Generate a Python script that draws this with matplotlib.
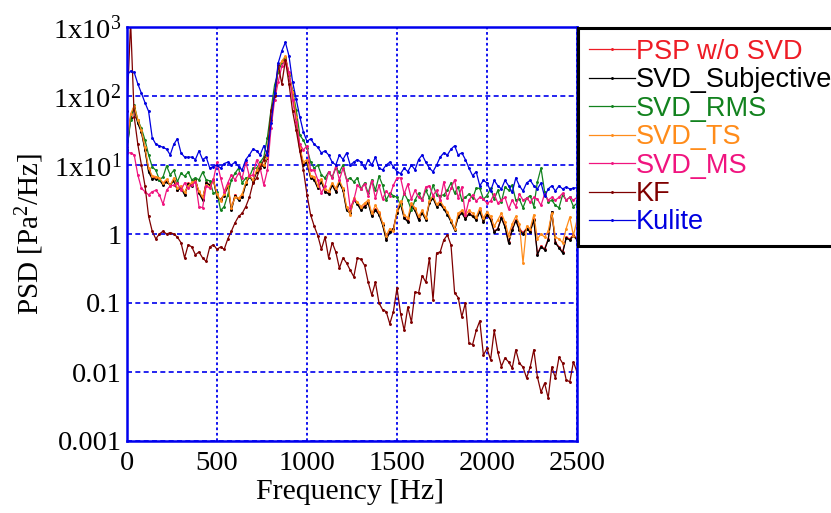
import numpy as np
import matplotlib
matplotlib.use("Agg")
import matplotlib.pyplot as plt

plt.rcParams['font.family'] = 'Liberation Serif'
plt.rcParams['mathtext.fontset'] = 'custom'
plt.rcParams['mathtext.rm'] = 'Liberation Serif'
plt.rcParams['mathtext.it'] = 'Liberation Serif:italic'

# frequency axis, 20 Hz steps
freq = np.arange(0, 2501, 20)

psp_raw = [18, 50, 70, 42, 31, 17, 8.5, 6.6, 6.5, 6.3,
           5.3, 5.9, 5.2, 6.1, 4.4, 4.8, 3.8, 5.4, 5.2, 6.2,
           4.0, 3.2, 5.6, 5.2, 6.2, 3.5, 3.2, 3.7, 5.1, 2.3,
           3.7, 3.2, 3.5, 5.4, 7.0, 5.9, 8.1, 10.2, 9.6, 12.8,
           46, 105, 245, 315, 365, 205, 112, 49, 17, 10.2,
           11.2, 6.6, 6.2, 4.7, 5.8, 4.2, 3.9, 5.2, 4.2, 5.6,
           4.4, 2.3, 2.1, 3.2, 2.8, 2.3, 2.6, 2.9, 1.9, 2.3,
           2.0, 1.4, 0.85, 1.1, 1.2, 2.1, 2.8, 1.75, 1.55, 2.6,
           2.3, 1.65, 2.1, 1.65, 2.9, 3.4, 2.6, 2.8, 2.4, 2.0,
           1.55, 1.2, 1.8, 2.1, 1.7, 2.0, 1.85, 1.65, 2.2, 1.55,
           1.95, 1.65, 1.1, 1.2, 1.75, 1.3, 0.76, 1.2, 1.6, 1.2,
           1.05, 1.2, 1.1, 1.65, 0.52, 0.67, 0.61, 0.85, 2.1, 0.76,
           0.65, 0.55, 0.9, 0.85, 0.97, 0.85]

svd_subj = [16.5, 48, 67, 40, 30, 16.5, 7.9, 6.3, 6.3, 6.1,
            5.1, 5.7, 5.1, 5.9, 4.3, 4.6, 3.7, 5.3, 5.0, 6.1,
            3.9, 3.1, 5.5, 5.1, 6.1, 3.4, 3.1, 3.6, 5.0, 2.2,
            3.6, 3.1, 3.4, 5.3, 6.9, 5.7, 7.9, 10, 9.4, 12.6,
            45, 103, 240, 310, 360, 200, 110, 48, 16.5, 10,
            11, 6.5, 6.1, 4.6, 5.7, 4.1, 3.8, 5.1, 4.1, 5.5,
            4.3, 2.2, 2.0, 3.1, 2.7, 2.2, 2.5, 2.8, 1.8, 2.2,
            1.9, 1.35, 0.82, 1.07, 1.18, 2.0, 2.7, 1.7, 1.5, 2.5,
            2.2, 1.6, 2.0, 1.6, 2.8, 3.3, 2.5, 2.7, 2.3, 1.9,
            1.5, 1.14, 1.76, 2.0, 1.65, 1.95, 1.8, 1.6, 2.1, 1.5,
            1.9, 1.6, 1.07, 1.18, 1.7, 1.26, 0.74, 1.14, 1.55, 1.14,
            1.0, 1.18, 1.07, 1.6, 0.5, 0.65, 0.59, 0.82, 2.1, 0.74,
            0.63, 0.53, 0.87, 0.82, 0.94, 0.82]

svd_rms = [16.5, 45, 74, 45, 34, 23, 14, 9.4, 8.4, 6.1,
           6.7, 9.7, 7.2, 8.4, 5.7, 7.6, 6.9, 7.9, 6.1, 6.5,
           6.1, 7.9, 6.1, 5.9, 3.9, 4.1, 2.2, 2.5, 3.7, 6.1,
           7.6, 9, 5.5, 6.5, 6.7, 9, 9, 11, 13, 25,
           63, 145, 220, 310, 360, 200, 120, 63, 27, 23,
           17.6, 11, 9, 10, 7.2, 6.5, 7.9, 6.7, 9, 7.9,
           10, 6.1, 6.5, 5.7, 6.5, 4.5, 5.5, 3.9, 6.1, 4.3,
           6.9, 5.1, 3.1, 3.9, 3.6, 3.4, 2.6, 3.9, 3.1, 2.2,
           3.1, 3.9, 3.1, 4.3, 3.3, 5.1, 3.7, 3.6, 3.7, 4.3,
           5.5, 3.9, 4.8, 3.1, 3.4, 3.8, 3.3, 4.6, 4.6, 3.2,
           3.6, 4.6, 3.2, 4.3, 2.9, 4.8, 4.3, 5.1, 3.1, 3.2,
           2.4, 3.3, 3.6, 2.5, 5.7, 9, 4.1, 2.9, 3.1, 2.6,
           2.4, 3.7, 3.1, 3.4, 2.5, 2.8]

svd_ts = [20, 55, 72, 45, 32, 18, 9, 7, 6.8, 6.5,
          5.5, 6.2, 5.0, 6.5, 4.6, 5.0, 4.0, 5.0, 5.6, 5.8,
          4.2, 3.4, 5.2, 4.8, 6.0, 3.8, 3.0, 3.8, 5.3, 2.4,
          3.4, 3.3, 3.8, 5.6, 7.2, 6.0, 8.5, 10.5, 10, 13,
          48, 110, 250, 320, 380, 210, 115, 50, 18, 11,
          12, 7, 6.8, 5.0, 6.2, 4.5, 4.2, 5.5, 4.6, 6.0,
          4.6, 2.5, 1.9, 3.3, 2.9, 2.5, 2.8, 3.1, 2.0, 2.6,
          2.1, 1.45, 0.95, 1.2, 1.1, 2.2, 3.0, 1.9, 1.7, 2.8,
          2.4, 1.8, 2.2, 1.7, 3.0, 3.6, 2.7, 3.0, 2.5, 2.1,
          1.6, 1.2, 2.0, 2.2, 1.9, 2.2, 2.0, 1.75, 2.4, 1.7,
          2.1, 1.8, 1.3, 1.6, 2.0, 1.5, 0.95, 1.4, 1.8, 1.4,
          0.38, 1.3, 1.2, 1.9, 0.85, 1.0, 0.9, 1.1, 2.0, 0.9,
          0.85, 0.75, 1.2, 1.75, 0.95, 1.6]

svd_ms = [15, 15, 14, 7.2, 4.6, 4.1, 3.7, 4.1, 4.3, 3.7,
          2.7, 4.3, 5.0, 5.1, 5.5, 4.3, 5.5, 4.6, 5.1, 5.7,
          2.5, 2.4, 5.0, 4.6, 6.1, 11, 6.5, 4.1, 5.5, 7.2,
          6.1, 7.6, 6.5, 11, 6.9, 7.2, 11.8, 9, 5.1, 8.4,
          34, 88, 160, 270, 330, 220, 88, 42, 20, 16.5,
          19, 8.4, 8.4, 6.1, 3.9, 5.0, 7.9, 6.5, 9.7, 6.1,
          9, 6.1, 2.4, 3.1, 5.1, 4.5, 5.3, 3.6, 5.9, 3.3,
          5.1, 3.2, 4.2, 3.6, 5.1, 6.5, 6.5, 3.8, 5.3, 3.2,
          4.3, 3.4, 3.1, 4.8, 5.0, 3.6, 4.3, 3.1, 5.7, 3.3,
          4.6, 6.1, 3.3, 4.8, 1.9, 3.1, 3.7, 3.0, 3.4, 3.2,
          2.8, 3.0, 3.8, 2.8, 3.1, 3.4, 2.3, 3.1, 2.5, 3.8,
          3.1, 3.3, 2.9, 3.4, 3.2, 2.6, 3.8, 3.1, 3.4, 3.1,
          3.4, 3.9, 3.1, 3.4, 3.1, 3.4]

kf = [60, 1200, 50, 20, 10, 5, 1.8, 1.1, 0.85, 1.0,
      1.1, 1.0, 1.05, 1.0, 0.9, 0.75, 0.45, 0.7, 0.65, 0.5,
      0.55, 0.45, 0.4, 0.65, 0.7, 0.6, 0.65, 0.6, 0.85, 1.1,
      1.45, 1.8, 2.0, 2.5, 3.4, 5.5, 6.5, 9, 12, 16,
      60, 100, 280, 150, 330, 150, 60, 32, 16, 8.5,
      3.7, 1.9, 1.3, 0.95, 0.6, 0.9, 0.45, 0.75, 0.55, 0.32,
      0.45, 0.38, 0.3, 0.24, 0.45, 0.43, 0.35, 0.2, 0.13, 0.2,
      0.1, 0.08, 0.075, 0.05, 0.075, 0.165, 0.07, 0.04, 0.087, 0.053,
      0.144, 0.14, 0.25, 0.2, 0.45, 0.11, 0.53, 0.55, 0.82, 0.97,
      0.69, 0.14, 0.12, 0.063, 0.1, 0.026, 0.025, 0.04, 0.055, 0.0176,
      0.022, 0.015, 0.04, 0.0195, 0.012, 0.016, 0.014, 0.0114, 0.021, 0.0134,
      0.0118, 0.0082, 0.0118, 0.021, 0.0085, 0.0051, 0.0069, 0.0042, 0.0118, 0.0082,
      0.0164, 0.0134, 0.0077, 0.0072, 0.014, 0.01]

kulite = [200, 230, 220, 150, 110, 80, 60, 25, 20, 19,
          18, 17, 14, 20, 24, 15, 13, 13, 13, 12,
          16, 12, 13, 9, 9.5, 10, 9, 10.5, 11, 10,
          11, 9.5, 8.5, 12, 14, 17, 16, 14, 19, 14,
          40, 110, 300, 450, 600, 380, 160, 90, 50, 30,
          22, 24, 20, 18, 15, 16, 14, 11, 10, 14,
          12, 15, 10, 11, 12, 11, 9, 12, 10, 13,
          9, 8.5, 10, 11, 9.5, 8, 7.5, 9, 8, 10,
          8.5, 12, 14, 11, 9, 8, 10, 13, 15, 14,
          17, 19, 14, 15, 12, 9, 7, 8, 5, 6,
          5.5, 4.2, 6, 5, 4.5, 6, 5, 4, 6.5, 5,
          4.2, 5.5, 6, 5, 4.5, 5.5, 3.5, 4.5, 5, 4.2,
          5, 4.5, 4.8, 4.5, 4.6, 4.7]

labels = ['PSP w/o SVD', 'SVD_Subjective', 'SVD_RMS', 'SVD_TS', 'SVD_MS', 'KF', 'Kulite']
series = [psp_raw, svd_subj, svd_rms, svd_ts, svd_ms, kf, kulite]
colors = ['#ee1c25', '#000000', '#12821e', '#ff8c1a', '#f0147f', '#7f0000', '#0000e0']

yticks = [1e-3, 1e-2, 1e-1, 1, 10, 100, 1000]
ytick_labels = ['0.001', '0.01', '0.1', '1', '1x10$^1$', '1x10$^2$', '1x10$^3$']
xticks = [0, 500, 1000, 1500, 2000, 2500]

fig = plt.figure(figsize=(8.31, 5.13), dpi=100)
ax = fig.add_axes([127/831, 1-441/513, 450/831, 414/513])

for vals, lab, c in zip(series, labels, colors):
    ax.semilogy(freq, vals, color=c, lw=0.9, marker='.', markersize=2.2, label=lab)

ax.set_xlim(0, 2500)
ax.set_ylim(1e-3, 1e3)
ax.set_xticks(xticks)
ax.set_yticks(yticks)
ax.set_yticklabels(ytick_labels)
ax.minorticks_off()
ax.tick_params(axis='both', length=0, labelsize=20.5)
ax.tick_params(axis='x', pad=7)
ax.tick_params(axis='y', pad=4)

ax.xaxis.grid(True, color='#0000ee', linestyle=(0, (1.5, 1.5)), lw=1.3)
ax.yaxis.grid(True, color='#0000ee', linestyle=(0, (3, 2)), lw=1.2)
for s in ax.spines.values():
    s.set_color('#0000ee')
    s.set_linewidth(1.8)

fig.text(350/831, 1-492/513, 'Frequency [Hz]', fontsize=21.5, ha='center', va='center')
fig.text(30/831, 1-234/513, 'PSD [Pa$^2$/Hz]', fontsize=21, rotation=90,
         ha='center', va='center')

leg = fig.legend(loc='upper left', bbox_to_anchor=(578/831, 1-28/513),
                 prop={'family': 'Liberation Sans', 'size': 19.5},
                 labelcolor='linecolor', fancybox=False, framealpha=1,
                 edgecolor='black', handlelength=1.7, handletextpad=0.05,
                 labelspacing=0.09, borderpad=0.4, borderaxespad=0)
leg.get_frame().set_linewidth(2.2)

fig.savefig('out.png', dpi=100)
